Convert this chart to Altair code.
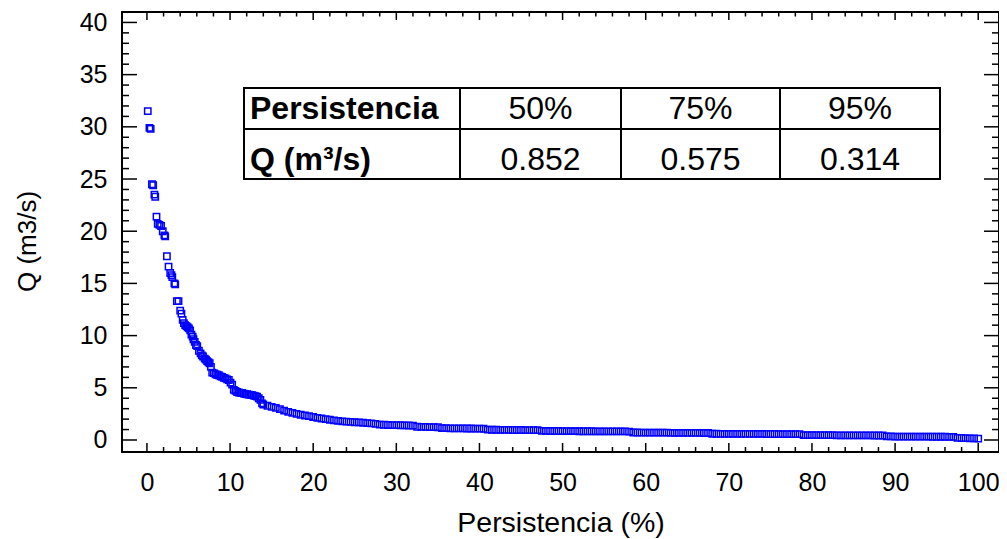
import altair as alt
import pandas as pd

# ---------------- data ----------------
persistence = [
    0.1, 0.3, 0.45, 0.6, 0.75, 0.9, 1.0, 1.15, 1.3, 1.5, 1.7, 1.9, 2.1, 2.2, 2.4, 2.6, 2.8, 2.95, 3.05, 3.3,
    3.4, 3.6, 3.8, 4.0, 4.15, 4.3, 4.45, 4.6, 4.75, 4.9, 5.05, 5.2, 5.35, 5.5, 5.6, 5.75, 5.9, 6.05, 6.25, 6.45,
    6.6, 6.75, 6.95, 7.1, 7.25, 7.4, 7.55, 7.7, 7.85, 8.05, 8.25, 8.45, 8.65, 8.85, 9.05, 9.25, 9.45, 9.65, 9.85, 10.05,
    10.25, 10.45, 10.65, 10.85, 11.05, 11.25, 11.45, 11.65, 11.85, 12.05, 12.25, 12.45, 12.65, 12.85, 13.05, 13.25, 13.45, 13.65, 13.85,
    14.0, 14.5, 15.0, 15.5, 16.0, 16.5, 17.0, 17.5, 18.0, 18.5, 19.0, 19.5, 20.0, 20.5, 21.0, 21.5, 22.0, 22.5, 23.0, 23.5,
    24.0, 24.5, 25.0, 25.5, 26.0, 26.5, 27.0, 27.5, 28.0, 28.5, 29.0, 29.5, 30.0, 30.5, 31.0, 31.5, 32.0, 32.5, 33.0, 33.5,
    34.0, 34.5, 35.0, 35.5, 36.0, 36.5, 37.0, 37.5, 38.0, 38.5, 39.0, 39.5, 40.0, 40.5, 41.0, 41.5, 42.0, 42.5, 43.0, 43.5,
    44.0, 44.5, 45.0, 45.5, 46.0, 46.5, 47.0, 47.5, 48.0, 48.5, 49.0, 49.5, 50.0, 50.5, 51.0, 51.5, 52.0, 52.5, 53.0, 53.5,
    54.0, 54.5, 55.0, 55.5, 56.0, 56.5, 57.0, 57.5, 58.0, 58.5, 59.0, 59.5, 60.0, 60.5, 61.0, 61.5, 62.0, 62.5, 63.0, 63.5,
    64.0, 64.5, 65.0, 65.5, 66.0, 66.5, 67.0, 67.5, 68.0, 68.5, 69.0, 69.5, 70.0, 70.5, 71.0, 71.5, 72.0, 72.5, 73.0, 73.5,
    74.0, 74.5, 75.0, 75.5, 76.0, 76.5, 77.0, 77.5, 78.0, 78.5, 79.0, 79.5, 80.0, 80.5, 81.0, 81.5, 82.0, 82.5, 83.0, 83.5,
    84.0, 84.5, 85.0, 85.5, 86.0, 86.5, 87.0, 87.5, 88.0, 88.5, 89.0, 89.5, 90.0, 90.5, 91.0, 91.5, 92.0, 92.5, 93.0, 93.5,
    94.0, 94.5, 95.0, 95.5, 96.0, 96.5, 97.0, 97.5, 98.0, 98.5, 99.0, 99.5, 100.0,
]
discharge = [
    31.5, 29.9, 29.8, 24.5, 24.4, 23.5, 23.3, 21.4, 20.7, 20.6, 20.5, 20.0, 19.6, 19.5, 17.6, 16.6, 16.0, 15.8, 15.6, 15.0,
    14.9, 13.3, 13.3, 12.4, 12.1, 11.5, 11.2, 11.0, 10.9, 10.8, 10.7, 10.5, 10.1, 9.9, 9.65, 9.4, 9.1, 9.0, 8.55, 8.3,
    8.1, 8.0, 7.8, 7.7, 7.55, 7.45, 7.35, 7.0, 6.45, 6.4, 6.3, 6.25, 6.2, 6.1, 6.05, 5.95, 5.9, 5.8, 5.75, 5.5,
    5.3, 4.8, 4.7, 4.6, 4.55, 4.52, 4.5, 4.45, 4.4, 4.38, 4.35, 4.33, 4.3, 4.25, 4.2, 4.15, 4.0, 3.85, 3.5,
    3.40, 3.28, 3.18, 3.08, 2.95, 2.82, 2.70, 2.60, 2.50, 2.42, 2.35, 2.28, 2.20, 2.12, 2.06, 2.00, 1.94, 1.88, 1.83, 1.79,
    1.76, 1.73, 1.70, 1.68, 1.65, 1.62, 1.59, 1.55, 1.48, 1.46, 1.44, 1.43, 1.42, 1.41, 1.40, 1.39, 1.38, 1.27, 1.26, 1.25,
    1.24, 1.23, 1.22, 1.14, 1.13, 1.12, 1.12, 1.11, 1.11, 1.10, 1.10, 1.09, 1.09, 1.08, 0.99, 0.98, 0.98, 0.97, 0.97, 0.97,
    0.96, 0.96, 0.96, 0.95, 0.95, 0.95, 0.94, 0.87, 0.87, 0.86, 0.86, 0.86, 0.852, 0.85, 0.85, 0.85, 0.84, 0.84, 0.84, 0.84,
    0.83, 0.83, 0.83, 0.83, 0.82, 0.82, 0.82, 0.82, 0.81, 0.72, 0.72, 0.71, 0.71, 0.71, 0.70, 0.70, 0.70, 0.70, 0.69, 0.69,
    0.69, 0.69, 0.68, 0.68, 0.68, 0.68, 0.67, 0.67, 0.60, 0.60, 0.59, 0.59, 0.59, 0.59, 0.58, 0.58, 0.58, 0.58, 0.58, 0.58,
    0.58, 0.575, 0.575, 0.575, 0.57, 0.57, 0.57, 0.56, 0.56, 0.56, 0.47, 0.47, 0.47, 0.46, 0.46, 0.46, 0.46, 0.46, 0.45, 0.45,
    0.45, 0.45, 0.45, 0.44, 0.44, 0.44, 0.44, 0.43, 0.43, 0.43, 0.34, 0.34, 0.33, 0.33, 0.33, 0.33, 0.33, 0.32, 0.32, 0.32,
    0.32, 0.314, 0.314, 0.31, 0.31, 0.30, 0.30, 0.20, 0.19, 0.18, 0.16, 0.15, 0.13,
]

x_major = [0, 10, 20, 30, 40, 50, 60, 70, 80, 90, 100]
x_minor = [2, 4, 6, 8, 12, 14, 16, 18, 22, 24, 26, 28, 32, 34, 36, 38, 42, 44, 46, 48,
           52, 54, 56, 58, 62, 64, 66, 68, 72, 74, 76, 78, 82, 84, 86, 88, 92, 94, 96, 98]
y_major = [0, 5, 10, 15, 20, 25, 30, 35, 40]
y_minor = [1, 2, 3, 4, 6, 7, 8, 9, 11, 12, 13, 14, 16, 17, 18, 19, 21, 22, 23, 24,
           26, 27, 28, 29, 31, 32, 33, 34, 36, 37, 38, 39]

table_header = ["Persistencia", "50%", "75%", "95%"]
table_values = ["Q (m³/s)", "0.852", "0.575", "0.314"]

x_title = "Persistencia (%)"
y_title = "Q (m3/s)"

# ---------------- layout / style ----------------
W, H = 877, 440
FONT = "Liberation Sans"
BLUE = "#0000FF"
xscale = alt.Scale(domain=[-3, 102.5], nice=False, zero=False)
yscale = alt.Scale(domain=[-1.15, 41.0], nice=False, zero=False)

x_axis = alt.Axis(values=x_major, title=x_title, ticks=False, tickSize=0, domain=False, grid=False,
                  labelFontSize=25, labelPadding=18, labelFont=FONT, labelColor="black",
                  titleFont=FONT, titleFontSize=28.5, titleFontWeight="normal", titleColor="black",
                  titleBaseline="alphabetic", titleY=79)
y_axis = alt.Axis(values=y_major, title=y_title, ticks=False, tickSize=0, domain=False, grid=False,
                  labelFontSize=25, labelPadding=15, labelFont=FONT, labelColor="black",
                  titleFont=FONT, titleFontSize=26, titleFontWeight="normal", titleColor="black",
                  titleBaseline="alphabetic", titleX=-87, titleY=229, titleAngle=270)

# table geometry (plot-area pixels)
TBL_COLS = [122, 338, 499, 658, 818]
TBL_ROWS = [76, 117, 167]
TBL_BASE = [107, 158]

df = pd.DataFrame({"p": persistence, "q": discharge})

points = alt.Chart(df).mark_point(
    shape="square", filled=False, color=BLUE, size=40, strokeWidth=1.5, opacity=1
).encode(
    x=alt.X("p:Q", scale=xscale, axis=x_axis),
    y=alt.Y("q:Q", scale=yscale, axis=y_axis),
)


def xticks(vals, y0, y1):
    return alt.Chart(pd.DataFrame({"p": vals})).mark_rule(color="black", strokeWidth=1.5).encode(
        x=alt.X("p:Q", scale=xscale, axis=x_axis), y=alt.value(y0), y2=alt.value(y1))


def yticks(vals, x0, x1):
    return alt.Chart(pd.DataFrame({"q": vals})).mark_rule(color="black", strokeWidth=1.5).encode(
        y=alt.Y("q:Q", scale=yscale, axis=y_axis), x=alt.value(x0), x2=alt.value(x1))


ticks = [
    xticks(x_major, H, H - 9), xticks(x_minor, H, H - 5),
    xticks(x_major, 0, 8), xticks(x_minor, 0, 4.5),
    yticks(y_major, 0, 15), yticks(y_minor, 0, 7),
    yticks(y_major, W, W - 15), yticks(y_minor, W, W - 7),
]

one = pd.DataFrame({"a": [0]})
frame = alt.Chart(one).mark_rect(fill=None, filled=False, stroke="black", strokeWidth=2).encode(
    x=alt.value(0), x2=alt.value(W), y=alt.value(0), y2=alt.value(H))
table_box = alt.Chart(one).mark_rect(fill="white", stroke="black", strokeWidth=2).encode(
    x=alt.value(TBL_COLS[0]), x2=alt.value(TBL_COLS[-1]), y=alt.value(TBL_ROWS[0]), y2=alt.value(TBL_ROWS[-1]))
table_lines = [
    alt.Chart(one).mark_rule(color="black", strokeWidth=2).encode(
        x=alt.value(TBL_COLS[0]), x2=alt.value(TBL_COLS[-1]), y=alt.value(TBL_ROWS[1]))
]
for cx in TBL_COLS[1:-1]:
    table_lines.append(alt.Chart(one).mark_rule(color="black", strokeWidth=2).encode(
        x=alt.value(cx), y=alt.value(TBL_ROWS[0]), y2=alt.value(TBL_ROWS[-1])))

table_texts = []
for r, row in enumerate([table_header, table_values]):
    for c, txt in enumerate(row):
        if c == 0:
            xpos, align, weight = TBL_COLS[0] + 6, "left", "bold"
        else:
            xpos, align, weight = (TBL_COLS[c] + TBL_COLS[c + 1]) / 2, "center", "normal"
        table_texts.append(
            alt.Chart(pd.DataFrame({"t": [txt]})).mark_text(
                font=FONT, fontSize=32, fontWeight=weight, align=align, baseline="alphabetic", color="black"
            ).encode(x=alt.value(xpos), y=alt.value(TBL_BASE[r]), text="t:N")
        )

chart = alt.layer(points, table_box, *table_lines, *table_texts, *ticks, frame).properties(
    width=W, height=H,
    autosize=alt.AutoSizeParams(type="none"),
    padding={"left": 114, "top": 4, "right": 0, "bottom": 87},
).configure(background="white").configure_view(stroke=None)

chart.save("out.html", embed_options={"renderer": "svg", "actions": False})
